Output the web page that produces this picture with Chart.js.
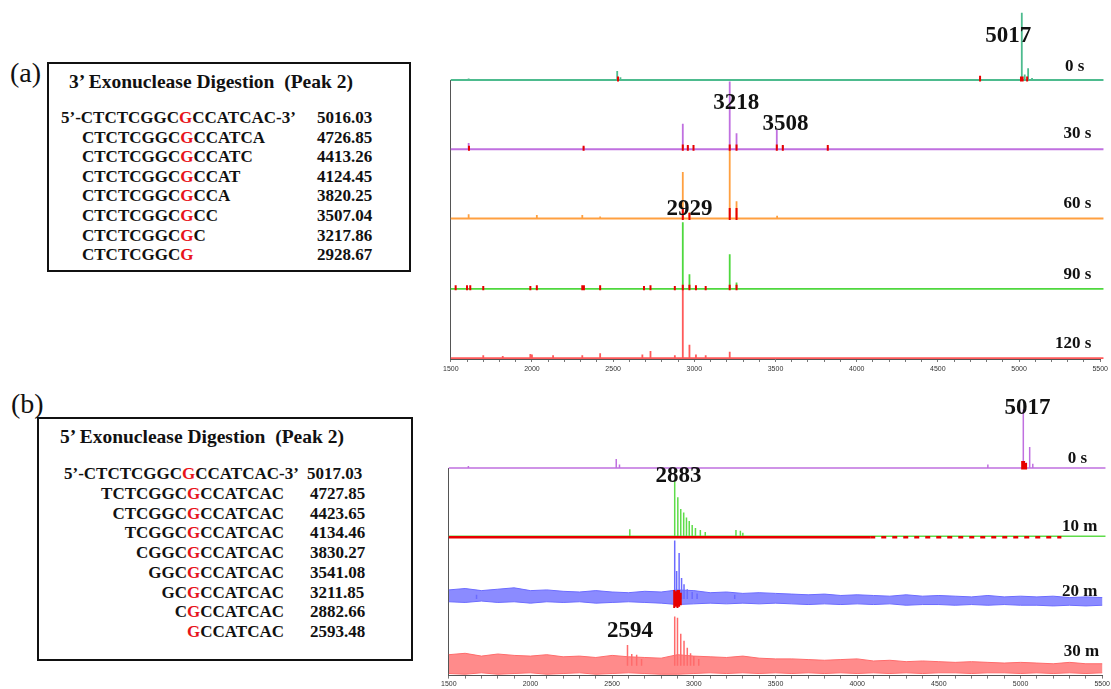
<!DOCTYPE html>
<html>
<head>
<meta charset="utf-8">
<script src="https://cdn.jsdelivr.net/npm/chart.js@4.4.1/dist/chart.umd.min.js"></script>
<style>
  body { margin: 0; background: #fff; width: 1111px; height: 689px; position: relative; overflow: hidden; font-family: "Liberation Serif", "Times New Roman", serif; color: #111; }
  .pl { position: absolute; font-size: 28px; line-height: 30px; }
  .box { position: absolute; border: 2px solid #111; box-sizing: border-box; }
  .t { position: absolute; font-weight: bold; white-space: pre; font-size: 17px; line-height: 20px; }
  .ttl { position: absolute; font-weight: bold; white-space: pre; font-size: 19.5px; line-height: 20px; }
  .g { color: #e8141b; }
  canvas { position: absolute; }
</style>
</head>
<body>

<div class="pl" style="left:10px;top:58px">(a)</div>
<div class="box" style="left:47px;top:62px;width:364px;height:210px"></div>
<div class="ttl" style="left:69px;top:72px">3’ Exonuclease Digestion  (Peak 2)</div>
<div class="t" style="left:61px;top:108px">5’-CTCTCGGC<span class="g">G</span>CCATCAC-3’</div>
<div class="t" style="left:82px;top:127.6px">CTCTCGGC<span class="g">G</span>CCATCA</div>
<div class="t" style="left:82px;top:147.2px">CTCTCGGC<span class="g">G</span>CCATC</div>
<div class="t" style="left:82px;top:166.8px">CTCTCGGC<span class="g">G</span>CCAT</div>
<div class="t" style="left:82px;top:186.4px">CTCTCGGC<span class="g">G</span>CCA</div>
<div class="t" style="left:82px;top:206px">CTCTCGGC<span class="g">G</span>CC</div>
<div class="t" style="left:82px;top:225.6px">CTCTCGGC<span class="g">G</span>C</div>
<div class="t" style="left:82px;top:245.2px">CTCTCGGC<span class="g">G</span></div>
<div class="t" style="left:317px;top:108px">5016.03</div>
<div class="t" style="left:317px;top:127.6px">4726.85</div>
<div class="t" style="left:317px;top:147.2px">4413.26</div>
<div class="t" style="left:317px;top:166.8px">4124.45</div>
<div class="t" style="left:317px;top:186.4px">3820.25</div>
<div class="t" style="left:317px;top:206px">3507.04</div>
<div class="t" style="left:317px;top:225.6px">3217.86</div>
<div class="t" style="left:317px;top:245.2px">2928.67</div>

<div class="pl" style="left:11px;top:389px">(b)</div>
<div class="box" style="left:37px;top:417px;width:376px;height:244px"></div>
<div class="ttl" style="left:60px;top:427px">5’ Exonuclease Digestion  (Peak 2)</div>
<div class="t" style="left:64px;top:464px">5’-CTCTCGGC<span class="g">G</span>CCATCAC-3’</div>
<div class="t" style="left:0;width:284px;text-align:right;top:483.75px">TCTCGGC<span class="g">G</span>CCATCAC</div>
<div class="t" style="left:0;width:284px;text-align:right;top:503.5px">CTCGGC<span class="g">G</span>CCATCAC</div>
<div class="t" style="left:0;width:284px;text-align:right;top:523.25px">TCGGC<span class="g">G</span>CCATCAC</div>
<div class="t" style="left:0;width:284px;text-align:right;top:543px">CGGC<span class="g">G</span>CCATCAC</div>
<div class="t" style="left:0;width:284px;text-align:right;top:562.75px">GGC<span class="g">G</span>CCATCAC</div>
<div class="t" style="left:0;width:284px;text-align:right;top:582.5px">GC<span class="g">G</span>CCATCAC</div>
<div class="t" style="left:0;width:284px;text-align:right;top:602.25px">C<span class="g">G</span>CCATCAC</div>
<div class="t" style="left:0;width:284px;text-align:right;top:622px"><span class="g">G</span>CCATCAC</div>
<div class="t" style="left:307px;top:464px">5017.03</div>
<div class="t" style="left:310px;top:483.75px">4727.85</div>
<div class="t" style="left:310px;top:503.5px">4423.65</div>
<div class="t" style="left:310px;top:523.25px">4134.46</div>
<div class="t" style="left:310px;top:543px">3830.27</div>
<div class="t" style="left:310px;top:562.75px">3541.08</div>
<div class="t" style="left:310px;top:582.5px">3211.85</div>
<div class="t" style="left:310px;top:602.25px">2882.66</div>
<div class="t" style="left:310px;top:622px">2593.48</div>

<canvas id="specA" width="671" height="385" style="left:440px;top:0"></canvas>
<canvas id="specB" width="671" height="304" style="left:440px;top:385px"></canvas>

<script>
// x axis (m/z)
const mzTickLabels = [1500, 2000, 2500, 3000, 3500, 4000, 4500, 5000, 5500];

// (a) 3' digestion, [m/z, height]  (100 = one trace spacing)
const timesA = ["0 s", "30 s", "60 s", "90 s", "120 s"];
const peaksA0 = [[1610, 2], [2525, 13], [2545, 4], [4760, 3], [5017, 97], [5035, 8], [5056, 17], [5080, 3]];
const peaksA30 = [[1610, 9], [2318, 3], [2929, 37], [2960, 4], [3218, 98], [3260, 23], [3508, 28], [3545, 5], [3822, 3]];
const peaksA60 = [[1610, 6], [2030, 5], [2310, 5], [2420, 3], [2929, 67], [2970, 9], [3218, 99], [3260, 25], [3510, 4]];
const peaksA90 = [[2929, 96], [2970, 21], [3218, 50], [3260, 9]];
const peaksA120 = [[1700, 4], [1820, 3], [1990, 6], [2000, 5], [2130, 4], [2310, 4], [2420, 7], [2680, 5], [2730, 10], [2880, 4], [2929, 99], [2970, 19], [3010, 5], [3070, 4], [3218, 9]];

// red peak marks, [m/z, low, high]
const marksA0 = [[2530, -2, 5], [4760, -2, 6], [5012, -2, 5], [5022, -2, 5], [5050, -2, 5]];
const marksA30 = [[1612, -2, 5], [2318, -2, 5], [2929, -2, 7], [2960, -2, 6], [2995, -2, 6], [3218, -2, 7], [3260, -2, 7], [3508, -2, 7], [3545, -2, 6], [3822, -2, 6]];
const marksA60 = [[2929, -2, 14], [2970, -2, 8], [3218, -2, 15], [3260, -2, 15]];
const marksA90 = [[1530, -2, 5], [1600, -2, 5], [1620, -2, 5], [1700, -2, 4], [1990, -2, 4], [2030, -2, 5], [2310, -2, 5], [2320, -2, 5], [2420, -2, 5], [2690, -2, 4], [2730, -2, 5], [2880, -2, 4], [2929, -2, 6], [2970, -2, 6], [3010, -2, 5], [3070, -2, 4], [3218, -2, 6], [3260, -2, 6]];
const marksA120 = [];

// (b) 5' digestion
const timesB = ["0 s", "10 m", "20 m", "30 m"];
const peaksB0 = [[1620, 3], [2525, 13], [2545, 5], [4800, 5], [5017, 84], [5035, 8], [5056, 30], [5075, 6]];
const peaksB10 = [[2608, 10], [2883, 79], [2902, 56], [2920, 39], [2938, 34], [2955, 27], [2972, 22], [2990, 16], [3010, 12], [3040, 9], [3070, 6], [3258, 9], [3285, 8], [3300, 5]];
const peaksB20 = [[1670, 6], [2883, 84], [2895, 40], [2910, 66], [2925, 30], [2940, 21], [2960, 14], [2990, 10], [3020, 8], [3250, 6]];
const peaksB30 = [[2594, 30], [2620, 17], [2650, 16], [2680, 10], [2883, 71], [2900, 69], [2920, 46], [2940, 36], [2960, 26], [2980, 18], [3000, 14], [3030, 10]];
const marksB0 = [[5010, -2, 10], [5022, -2, 10], [5034, -2, 7]];
const marksB20 = [[2880, -13, 13], [2890, -11, 11], [2900, -13, 13], [2910, -11, 13], [2920, -9, 9]];
const redTrackB10 = [1500, 4080, 5250];

// noise band of the 20 m and 30 m spectra
const noiseMz = [1500, 1600, 1700, 1800, 1900, 2000, 2100, 2200, 2300, 2400, 2500, 2600, 2700, 2800, 2900, 3000, 3100, 3200, 3300, 3400, 3500, 3600, 3700, 3800, 3900, 4000, 4100, 4200, 4300, 4400, 4500, 4600, 4700, 4800, 4900, 5000, 5100, 5200, 5300, 5400, 5500, 5540];
const band20Hi = [13, 15, 12, 14, 16, 12, 13, 11, 10, 12, 10, 9, 11, 10, 13, 12, 9, 10, 8, 9, 8, 7, 6, 7, 5, 6, 5, 4, 6, 4, 5, 4, 3, 5, 3, 4, 3, 4, 2, 3, 2, 2];
const band20Lo = [-4, -5, -3, -5, -4, -6, -4, -5, -4, -6, -5, -4, -5, -6, -8, -7, -6, -7, -6, -7, -6, -7, -8, -7, -8, -7, -8, -7, -9, -8, -8, -9, -8, -9, -8, -9, -9, -10, -9, -10, -9, -10];
const band30Hi = [16, 18, 14, 17, 15, 14, 16, 13, 14, 12, 15, 13, 12, 11, 16, 14, 13, 12, 14, 11, 10, 10, 9, 8, 9, 10, 7, 8, 6, 7, 6, 5, 6, 5, 4, 5, 4, 3, 5, 3, 3, 3];
const band30Lo = [-11, -12, -10, -12, -11, -10, -12, -11, -10, -12, -11, -10, -11, -12, -12, -11, -10, -11, -10, -11, -10, -11, -10, -11, -10, -11, -10, -11, -10, -11, -10, -10, -11, -10, -10, -11, -10, -11, -10, -11, -10, -10];

const X_MIN = 1500, X_MAX = 5500, X_END = 5520;

// stick spectrum on a baseline
function stickTrace(peaks) {
  const pts = [{ x: X_MIN, y: 0 }];
  peaks.slice().sort((a, b) => a[0] - b[0]).forEach(([m, h]) => {
    pts.push({ x: m, y: 0 }, { x: m, y: h }, { x: m, y: 0 });
  });
  pts.push({ x: X_END, y: 0 });
  return pts;
}
// sticks only, no baseline
function sticks(peaks) {
  const pts = [];
  peaks.forEach(([m, h]) => pts.push({ x: m, y: 0 }, { x: m, y: h }, { x: m, y: null }));
  return pts;
}
function marks(list) {
  const pts = [];
  list.forEach(([m, lo, hi]) => pts.push({ x: m, y: lo }, { x: m, y: hi }, { x: m, y: null }));
  return pts;
}
function lineDs(data, row, color, width, order, extra) {
  return Object.assign({
    type: "line", data, yAxisID: "y" + row, borderColor: color, borderWidth: width,
    pointRadius: 0, tension: 0, fill: false, clip: false, order,
  }, extra || {});
}

function yAxes(offsets, span) {
  const s = {};
  offsets.forEach((off, i) => {
    s["y" + i] = {
      type: "linear", position: "left", display: i === offsets.length - 1,
      min: -off, max: span - off,
      grid: { display: false, drawTicks: false },
      ticks: { display: false },
      border: { display: true, color: "#555", width: 1 },
    };
  });
  return s;
}

function xAxis(pad) {
  return {
    type: "linear", min: X_MIN, max: X_MAX,
    ticks: {
      stepSize: 100, autoSkip: false, maxRotation: 0, padding: pad, color: "#333",
      font: { family: "Liberation Sans", size: 7 },
      callback: (v) => (mzTickLabels.includes(Math.round(v)) ? String(Math.round(v)) : ""),
    },
    grid: { display: true, drawOnChartArea: false, drawTicks: true, tickLength: 3, color: "#777" },
    border: { display: true, color: "#555" },
  };
}

const textPlugin = {
  id: "specText",
  afterDatasetsDraw(chart, args, opts) {
    const ctx = chart.ctx;
    const xs = chart.scales.x;
    opts.items.forEach((it) => {
      ctx.save();
      ctx.font = "bold " + it.size + 'px "Liberation Serif"';
      ctx.fillStyle = "#111";
      ctx.textAlign = it.align || "center";
      ctx.textBaseline = "middle";
      ctx.fillText(it.text, xs.getPixelForValue(it.mz), chart.scales["y" + it.row].getPixelForValue(it.h));
      ctx.restore();
    });
  },
};

// ---- chart (a)
const colorsA = ["#4dbb8e", "#c070e0", "#ffa040", "#4fd83e", "#ff5a5a"];
const peaksA = [peaksA0, peaksA30, peaksA60, peaksA90, peaksA120];
const marksAll = [marksA0, marksA30, marksA60, marksA90, marksA120];
const dsA = [];
peaksA.forEach((p, i) => {
  dsA.push(lineDs(marks(marksAll[i]), i, "#e60000", 2, 0));
  dsA.push(lineDs(stickTrace(p), i, colorsA[i], 1.8, 1));
});

new Chart(document.getElementById("specA"), {
  type: "line",
  data: { datasets: dsA },
  options: {
    responsive: false, animation: false, devicePixelRatio: 1, events: [],
    layout: { padding: { top: 80, left: 7, right: 8, bottom: 8.6 } },
    scales: Object.assign({ x: xAxis(3) }, yAxes([402.9, 302.9, 202.9, 101.4, 1.4], 402.9)),
    plugins: {
      legend: { display: false }, tooltip: { enabled: false },
      specText: {
        items: [
          { text: "5017", mz: 4933, row: 0, h: 64, size: 23 },
          { text: "3218", mz: 3259, row: 1, h: 66, size: 23 },
          { text: "3508", mz: 3561, row: 1, h: 37, size: 23 },
          { text: "2929", mz: 2970, row: 2, h: 14, size: 23 },
          { text: timesA[0], mz: 5402, row: 0, h: 20, size: 17, align: "right" },
          { text: timesA[1], mz: 5445, row: 1, h: 22, size: 17, align: "right" },
          { text: timesA[2], mz: 5445, row: 2, h: 21, size: 17, align: "right" },
          { text: timesA[3], mz: 5445, row: 3, h: 21, size: 17, align: "right" },
          { text: timesA[4], mz: 5445, row: 4, h: 21, size: 17, align: "right" },
        ],
      },
    },
  },
  plugins: [textPlugin],
});

// ---- chart (b)
const cPurple = "#c070e0", cGreen = "#5fdc4a", cBlue = "#6b6bff", cRed = "#ff6b6b";
const band = (hi, lo, row, color, fillColor) => [
  lineDs(noiseMz.map((m, i) => ({ x: m, y: hi[i] })), row, color, 1, 3, { fill: "+1", backgroundColor: fillColor }),
  lineDs(noiseMz.map((m, i) => ({ x: m, y: lo[i] })), row, color, 1, 3),
];
const dsB = [
  lineDs(marks(marksB0), 0, "#e60000", 2, 0),
  lineDs(stickTrace(peaksB0), 0, cPurple, 1.5, 1),
  lineDs(stickTrace(peaksB10), 1, cGreen, 1.5, 2),
  lineDs([{ x: redTrackB10[0], y: -1.5 }, { x: redTrackB10[1], y: -1.5 }], 1, "#e60000", 2.5, 1),
  lineDs([{ x: redTrackB10[1], y: -1.5 }, { x: redTrackB10[2], y: -1.5 }], 1, "#e60000", 2.5, 1, { borderDash: [5, 6] }),
  lineDs(marks(marksB20), 2, "#e60000", 2, 0),
  lineDs(sticks(peaksB20), 2, cBlue, 1.5, 1),
  ...band(band20Hi, band20Lo, 2, cBlue, "rgba(110,110,255,0.8)"),
  lineDs(sticks(peaksB30), 3, cRed, 1.5, 1),
  ...band(band30Hi, band30Lo, 3, cRed, "rgba(255,110,110,0.8)"),
];

new Chart(document.getElementById("specB"), {
  type: "line",
  data: { datasets: dsB },
  options: {
    responsive: false, animation: false, devicePixelRatio: 1, events: [],
    layout: { padding: { top: 83, left: 7, right: 8, bottom: 0 } },
    scales: Object.assign({ x: xAxis(1) }, yAxes([298, 200, 110, 14], 298)),
    plugins: {
      legend: { display: false }, tooltip: { enabled: false },
      specText: {
        items: [
          { text: "5017", mz: 5043, row: 0, h: 86, size: 23 },
          { text: "2883", mz: 2906, row: 1, h: 87, size: 23 },
          { text: "2594", mz: 2610, row: 3, h: 50, size: 23 },
          { text: timesB[0], mz: 5408, row: 0, h: 14, size: 17, align: "right" },
          { text: timesB[1], mz: 5470, row: 1, h: 14, size: 17, align: "right" },
          { text: timesB[2], mz: 5470, row: 2, h: 11, size: 17, align: "right" },
          { text: timesB[3], mz: 5482, row: 3, h: 21, size: 17, align: "right" },
        ],
      },
    },
  },
  plugins: [textPlugin],
});
</script>
</body>
</html>
